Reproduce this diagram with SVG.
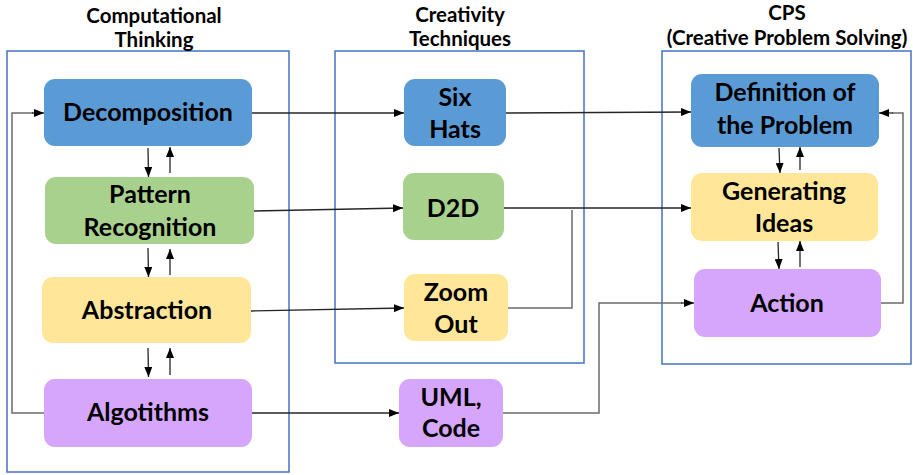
<svg xmlns="http://www.w3.org/2000/svg" width="913" height="475" viewBox="0 0 913 475">
  <defs>
    <marker id="arrow" viewBox="0 0 10 8" refX="10" refY="4" markerWidth="10" markerHeight="8" markerUnits="userSpaceOnUse" orient="auto">
      <path d="M0,0 L10,4 L0,8 Z" fill="#000"/>
    </marker>
  </defs>
  <style>
    text { font-family: Lato, "Liberation Sans", sans-serif; font-weight: bold; fill: #000; text-anchor: middle; }
    .title { font-size: 20.5px; }
    .label { font-size: 25px; }
    .frame { fill: none; stroke: #4472C4; stroke-width: 1.5; }
    .node { stroke: none; }
    .blue { fill: #5B9BD5; }
    .green { fill: #A9D18E; }
    .yellow { fill: #FFE699; }
    .purple { fill: #D5A6FC; }
    .link { fill: none; stroke: #262626; stroke-width: 1.3; marker-end: url(#arrow); }
    .elbow { fill: none; stroke: #6b6b6b; stroke-width: 1.5; }
  </style>

  <!-- group frames and headings -->
  <g id="group-ct">
    <rect class="frame" x="7" y="51" width="282" height="421"/>
    <text class="title" x="154" y="23">Computational</text>
    <text class="title" x="154" y="47">Thinking</text>
  </g>
  <g id="group-creativity">
    <rect class="frame" x="335" y="51" width="249" height="312"/>
    <text class="title" x="460" y="22">Creativity</text>
    <text class="title" x="460" y="46">Techniques</text>
  </g>
  <g id="group-cps">
    <rect class="frame" x="662" y="51" width="249" height="313"/>
    <text class="title" x="787" y="20">CPS</text>
    <text class="title" x="787" y="45">(Creative Problem Solving)</text>
  </g>

  <!-- Computational Thinking -->
  <g id="decomposition">
    <rect class="node blue" x="44" y="79" width="208" height="67" rx="11"/>
    <text class="label" x="148" y="121">Decomposition</text>
  </g>
  <g id="pattern-recognition">
    <rect class="node green" x="45" y="177" width="209" height="67" rx="11"/>
    <text class="label" x="150" y="203">Pattern</text>
    <text class="label" x="150" y="236">Recognition</text>
  </g>
  <g id="abstraction">
    <rect class="node yellow" x="42" y="277" width="209" height="66" rx="11"/>
    <text class="label" x="147" y="319">Abstraction</text>
  </g>
  <g id="algorithms">
    <rect class="node purple" x="44" y="379" width="208" height="68" rx="11"/>
    <text class="label" x="148" y="421">Algotithms</text>
  </g>

  <!-- Creativity Techniques -->
  <g id="six-hats">
    <rect class="node blue" x="404" y="79" width="102" height="67" rx="11"/>
    <text class="label" x="455" y="106">Six</text>
    <text class="label" x="455" y="138">Hats</text>
  </g>
  <g id="d2d">
    <rect class="node green" x="403" y="173" width="101" height="67" rx="11"/>
    <text class="label" x="453" y="217">D2D</text>
  </g>
  <g id="zoom-out">
    <rect class="node yellow" x="404" y="274" width="104" height="67" rx="11"/>
    <text class="label" x="456" y="301">Zoom</text>
    <text class="label" x="456" y="333">Out</text>
  </g>
  <g id="uml-code">
    <rect class="node purple" x="399" y="379" width="104" height="68" rx="11"/>
    <text class="label" x="451" y="406">UML,</text>
    <text class="label" x="451" y="437">Code</text>
  </g>

  <!-- Creative Problem Solving -->
  <g id="definition">
    <rect class="node blue" x="691" y="74" width="188" height="73" rx="11"/>
    <text class="label" x="785" y="101">Definition of</text>
    <text class="label" x="785" y="134">the Problem</text>
  </g>
  <g id="generating-ideas">
    <rect class="node yellow" x="691" y="173" width="187" height="68" rx="11"/>
    <text class="label" x="784" y="200">Generating</text>
    <text class="label" x="784" y="232">Ideas</text>
  </g>
  <g id="action">
    <rect class="node purple" x="694" y="269" width="187" height="68" rx="11"/>
    <text class="label" x="787" y="312">Action</text>
  </g>

  <!-- connectors -->
  <g id="connectors">
    <!-- vertical pairs inside the CT column -->
    <path class="link" d="M148,148 L148.5,177"/>
    <path class="link" d="M170,173 L170,147"/>
    <path class="link" d="M148,248 L148.5,277"/>
    <path class="link" d="M170,275 L170,249"/>
    <path class="link" d="M148,348 L148.5,377"/>
    <path class="link" d="M170,375 L170,348"/>

    <!-- vertical pairs inside the CPS column -->
    <path class="link" d="M779,148 L780,173"/>
    <path class="link" d="M800,170 L800,147"/>
    <path class="link" d="M778,242 L779,269"/>
    <path class="link" d="M800,267 L800,241"/>

    <!-- feedback loop from Algotithms to Decomposition -->
    <path class="elbow" d="M44,413 L12,413 L12,113 L33,113"/>
    <path class="link" d="M32,113 L44,113"/>

    <!-- CT to creativity techniques -->
    <path class="link" d="M252,113 L404,113"/>
    <path class="link" d="M254,211 L403,208"/>
    <path class="link" d="M251,311 L404,308"/>
    <path class="link" d="M252,413 L399,413"/>

    <!-- creativity techniques to CPS -->
    <path class="link" d="M506,113 L691,112"/>
    <path class="link" d="M504,208 L691,208"/>
    <path class="elbow" d="M508,308 L572,308 L572,210"/>
    <path class="elbow" d="M503,413 L599,413 L599,303 L682,303"/>
    <path class="link" d="M681,303 L694,303"/>

    <!-- loop from Action back to Definition -->
    <path class="elbow" d="M881,303 L903,303 L903,113 L892,113"/>
    <path class="link" d="M893,113 L879,113"/>
  </g>
</svg>
